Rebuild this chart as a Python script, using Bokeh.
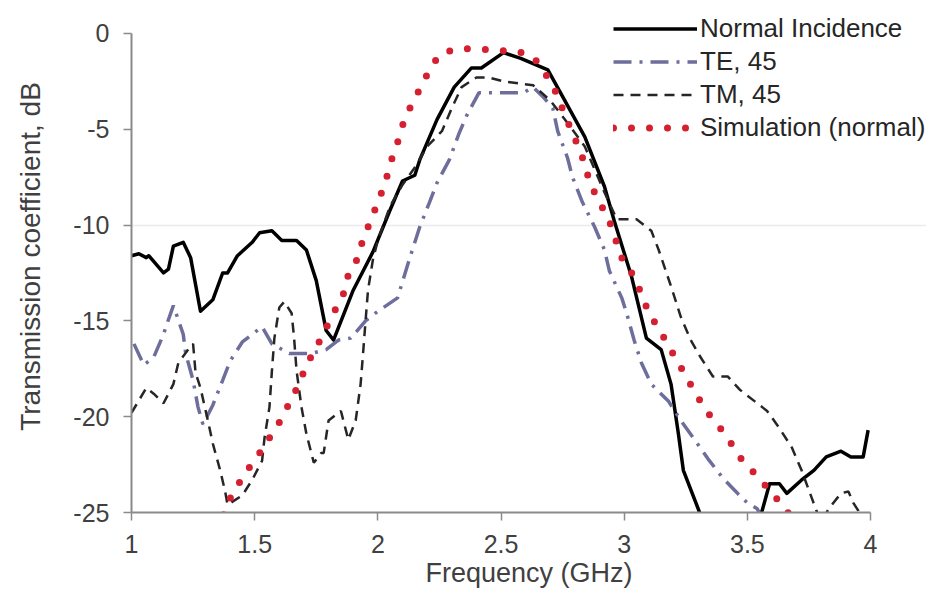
from bokeh.plotting import figure
from bokeh.models import Legend, LegendItem, FixedTicker, Range1d
from bokeh.embed import file_html
from bokeh.resources import INLINE

# Normal incidence (measured)
normal_f = [1.00, 1.03, 1.06, 1.07, 1.13, 1.15, 1.17, 1.21, 1.24, 1.28, 1.33, 1.37, 1.39, 1.43, 1.49,
            1.52, 1.57, 1.61, 1.67, 1.71, 1.75, 1.79, 1.82, 1.90, 1.98, 2.05, 2.10, 2.15, 2.17, 2.24,
            2.31, 2.38, 2.42, 2.51, 2.58, 2.69, 2.75, 2.84, 2.92, 2.96, 3.03, 3.09, 3.15, 3.19, 3.22,
            3.24, 3.30, 3.38, 3.47, 3.56, 3.59, 3.63, 3.66, 3.72, 3.77, 3.82, 3.88, 3.92, 3.97, 3.99]
normal_db = [-11.6, -11.5, -11.7, -11.6, -12.5, -12.3, -11.1, -10.9, -11.7, -14.5, -13.9, -12.5, -12.5, -11.6, -10.9,
             -10.4, -10.3, -10.8, -10.8, -11.3, -12.9, -15.5, -16.0, -13.4, -11.4, -9.2, -7.7, -7.4, -6.6, -4.5,
             -2.8, -1.8, -1.8, -1.0, -1.3, -1.9, -3.3, -5.4, -8.0, -9.8, -12.7, -15.9, -16.5, -18.3, -20.9,
             -22.8, -24.8, -27.5, -27.5, -24.9, -23.5, -23.5, -24.0, -23.3, -22.8, -22.1, -21.8, -22.1, -22.1, -20.7]

# TE, 45
te_f = [1.01, 1.05, 1.09, 1.13, 1.14, 1.17, 1.21, 1.22, 1.25, 1.27, 1.29, 1.33, 1.37, 1.40, 1.45,
        1.53, 1.57, 1.64, 1.73, 1.79, 1.84, 1.89, 1.95, 2.00, 2.08, 2.13, 2.17, 2.21, 2.24, 2.29,
        2.33, 2.36, 2.41, 2.51, 2.59, 2.63, 2.67, 2.71, 2.73, 2.77, 2.79, 2.83, 2.88, 2.92, 2.94,
        2.99, 3.01, 3.04, 3.07, 3.11, 3.18, 3.23, 3.28, 3.34, 3.40, 3.46, 3.50, 3.54, 3.60]
te_db = [-16.2, -17.3, -16.9, -15.7, -15.3, -14.2, -15.7, -16.7, -18.1, -19.5, -20.4, -19.4, -18.1, -17.1, -16.1,
         -15.3, -16.2, -16.7, -16.7, -16.5, -16.0, -15.9, -15.0, -14.5, -13.8, -11.7, -10.1, -8.8, -7.8, -6.6,
         -5.2, -4.3, -3.1, -3.1, -3.1, -2.8, -3.3, -3.9, -5.1, -6.5, -7.5, -8.8, -10.1, -11.3, -12.4,
         -13.8, -14.6, -16.0, -17.2, -18.3, -19.2, -20.2, -21.1, -22.2, -23.2, -24.0, -24.5, -24.8, -26.5]

# TM, 45
tm_f = [1.00, 1.06, 1.09, 1.13, 1.17, 1.19, 1.23, 1.25, 1.26, 1.28, 1.31, 1.33, 1.36, 1.38, 1.39,
        1.45, 1.49, 1.53, 1.54, 1.56, 1.57, 1.58, 1.60, 1.62, 1.65, 1.66, 1.67, 1.69, 1.71, 1.74,
        1.77, 1.78, 1.80, 1.85, 1.88, 1.91, 1.93, 1.94, 1.95, 1.96, 1.98, 2.00, 2.05, 2.10, 2.15,
        2.20, 2.26, 2.30, 2.34, 2.40, 2.45, 2.51, 2.57, 2.63, 2.70, 2.76, 2.84, 2.92, 2.97, 3.05,
        3.11, 3.14, 3.19, 3.23, 3.27, 3.31, 3.36, 3.42, 3.47, 3.53, 3.58, 3.63, 3.68, 3.72, 3.76,
        3.78, 3.80, 3.83, 3.88, 3.91, 3.93, 3.95, 3.97]
tm_db = [-19.8, -18.5, -18.8, -19.3, -18.3, -17.2, -16.5, -16.2, -17.7, -18.5, -20.2, -21.4, -22.8, -23.9, -24.6,
         -24.1, -23.3, -22.3, -21.1, -19.5, -17.6, -15.9, -14.3, -14.0, -14.6, -15.9, -17.6, -19.5, -20.9, -22.4,
         -21.9, -21.9, -20.2, -19.7, -21.2, -20.2, -18.3, -16.7, -15.0, -13.4, -11.8, -10.8, -9.0, -7.9, -7.0,
         -5.9, -5.1, -3.9, -2.8, -2.3, -2.3, -2.5, -2.6, -2.7, -3.5, -4.5, -5.9, -8.3, -9.7, -9.7,
         -10.3, -11.3, -13.2, -14.8, -16.0, -16.9, -17.9, -17.9, -18.6, -19.2, -19.7, -20.6, -21.6, -22.8, -24.2,
         -24.9, -25.5, -24.8, -24.0, -23.9, -24.5, -24.9, -25.5]

# Simulation (normal)
sim_f = [1.35, 1.39, 1.43, 1.47, 1.52, 1.56, 1.61, 1.64, 1.68, 1.71, 1.75, 1.82, 1.86, 1.88, 1.92,
         1.94, 1.97, 2.00, 2.03, 2.05, 2.08, 2.10, 2.13, 2.17, 2.21, 2.25, 2.32, 2.40, 2.49, 2.56,
         2.63, 2.68, 2.72, 2.78, 2.81, 2.84, 2.86, 2.90, 2.94, 2.99, 3.04, 3.07, 3.10, 3.14, 3.18,
         3.22, 3.26, 3.30, 3.34, 3.39, 3.44, 3.48, 3.54, 3.64, 3.70]
sim_db = [-26.0, -24.5, -23.6, -22.8, -21.9, -21.1, -20.1, -19.3, -18.3, -17.3, -16.4, -14.6, -13.6, -12.6, -11.7,
          -10.7, -9.8, -8.8, -7.8, -6.8, -5.7, -4.8, -3.9, -2.9, -1.9, -1.1, -0.8, -0.8, -0.9, -0.9,
          -1.2, -2.1, -3.0, -4.9, -5.8, -6.8, -7.8, -8.8, -9.8, -11.7, -12.7, -13.6, -14.6, -15.4, -16.3,
          -17.2, -18.1, -19.0, -19.8, -20.6, -21.5, -22.3, -23.1, -24.6, -25.6]

x_ticks = [1, 1.5, 2, 2.5, 3, 3.5, 4]
x_tick_labels = ["1", "1.5", "2", "2.5", "3", "3.5", "4"]
y_ticks = [0, -5, -10, -15, -20, -25]
y_tick_labels = ["0", "-5", "-10", "-15", "-20", "-25"]

FONT = "Liberation Sans"
TICK_FS = "25px"
TITLE_FS = "27px"

# axes span 1..4 GHz and -25..0 dB; the frame extends a little beyond so that
# the legend (which sits partly outside the axes in the original) is not clipped
p = figure(width=926, height=597, output_backend="svg", toolbar_location=None,
           x_range=Range1d(1, 4.227), y_range=Range1d(-25, 1.72),
           min_border_left=131, min_border_right=0, min_border_top=0, min_border_bottom=85)
p.outline_line_color = None
p.background_fill_color = "white"

r_normal = p.line(normal_f, normal_db, line_color="black", line_width=3.5, line_join="round")
r_te = p.line(te_f, te_db, line_color="#6E6E9C", line_width=3.5, line_dash="18 8 3 8")
r_tm = p.line(tm_f, tm_db, line_color="#262626", line_width=2.5, line_dash="10 7")
r_sim = p.line(sim_f, sim_db, line_color="#D42030", line_width=7, line_dash="0 18", line_cap="round")

for ax in (p.xaxis[0], p.yaxis[0]):
    ax.axis_line_color = "#8A8A8A"
    ax.axis_line_width = 2
    ax.major_tick_line_color = "#8A8A8A"
    ax.major_tick_line_width = 1.5
    ax.major_tick_in = 0
    ax.major_tick_out = 8
    ax.minor_tick_line_color = None
    ax.major_label_text_font = FONT
    ax.major_label_text_font_size = TICK_FS
    ax.major_label_text_color = "#404040"
    ax.axis_label_text_font = FONT
    ax.axis_label_text_font_size = TITLE_FS
    ax.axis_label_text_font_style = "normal"
    ax.axis_label_text_color = "#404040"

p.xaxis.bounds = (1, 4)
p.yaxis.bounds = (-25, 0)
p.xaxis.ticker = FixedTicker(ticks=x_ticks)
p.xaxis.major_label_overrides = {t: s for t, s in zip(x_ticks, x_tick_labels)}
p.yaxis.ticker = FixedTicker(ticks=y_ticks)
p.yaxis.major_label_overrides = {t: s for t, s in zip(y_ticks, y_tick_labels)}
p.xaxis.axis_label = "Frequency (GHz)"
p.yaxis.axis_label = "Transmission coefficient, dB"
p.yaxis.axis_label_text_font_size = "28px"
p.xaxis.major_label_standoff = 14
p.xaxis.axis_label_standoff = 2
p.yaxis.major_label_standoff = 14
p.yaxis.axis_label_standoff = 24

p.xgrid.grid_line_color = None
p.ygrid.ticker = FixedTicker(ticks=[-10])
p.ygrid.bounds = (1.1, 3.95)
p.ygrid.grid_line_color = "#EBEBEB"
p.ygrid.grid_line_width = 1.5

legend = Legend(items=[
    LegendItem(label="Normal Incidence", renderers=[r_normal]),
    LegendItem(label="TE, 45", renderers=[r_te]),
    LegendItem(label="TM, 45", renderers=[r_tm]),
    LegendItem(label="Simulation (normal)", renderers=[r_sim]),
], location=(482, 368))
legend.padding = 0
legend.margin = 0
legend.spacing = 0
legend.border_line_color = None
legend.background_fill_alpha = 0
legend.glyph_width = 84
legend.glyph_height = 33
legend.label_height = 33
legend.label_standoff = 3
legend.label_text_font = FONT
legend.label_text_font_size = "26px"
legend.label_text_color = "#262626"
p.add_layout(legend, "center")

open("out.html", "w").write(file_html(p, INLINE))
